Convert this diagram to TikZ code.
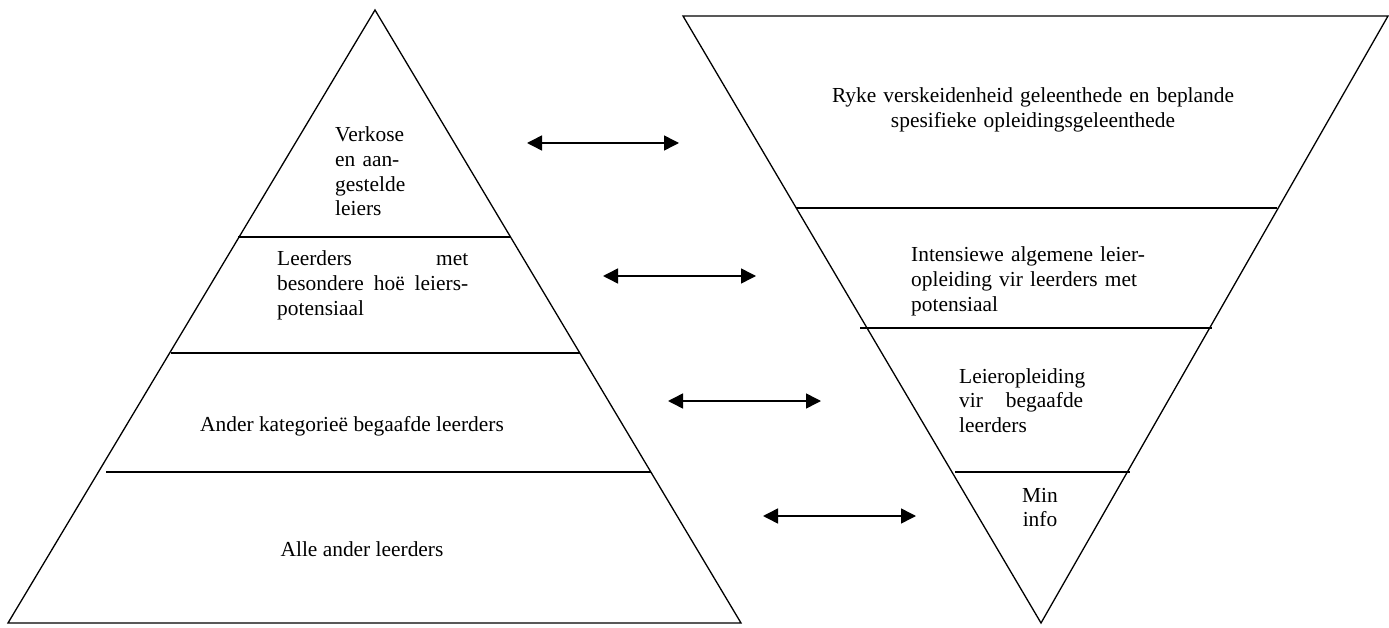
\documentclass[tikz,border=0pt]{standalone}
\usepackage{fontspec}
\setmainfont{Liberation Serif}
\usetikzlibrary{arrows.meta}

\begin{document}
\begin{tikzpicture}[
  x=1pt,y=-1pt,>={Triangle[length=15pt,width=15pt]},
  link/.style={<->,line width=1.5pt},
  edge/.style={line width=1.3pt,line join=miter},
  band/.style={line width=1.6pt},
  txt/.style={font=\fontsize{21.4}{24.6}\selectfont,inner sep=0pt},
  blk/.style={txt,align=left,anchor=base west}]
\useasboundingbox (0,0) rectangle (1389,628);
\coordinate (ltop) at (375,10);
\coordinate (lbl) at (8,623);
\coordinate (lbr) at (741,623);
\coordinate (rtl) at (683,16);
\coordinate (rtr) at (1388,16);
\coordinate (rbot) at (1041,623);
\draw[edge] (ltop)--(lbl)--(lbr)--cycle;
\draw[edge] (rtl)--(rtr)--(rbot)--cycle;
\draw[band] (238,237)--(510,237);
\draw[band] (171,353)--(580,353);
\draw[band] (106,472)--(651,472);
\draw[band] (796,208)--(1277,208);
\draw[band] (860,328)--(1212,328);
\draw[band] (955,472)--(1130,472);
\node[blk,text width=90pt] (verkose) at (335,142) {Verkose\\en aan-\\gestelde\\leiers};
\node[blk,text width=191pt] (potensiaal) at (277,266)
 {Leerders\hfill met\\besondere\hfill hoë\hfill leiers-\\potensiaal};
\node[txt,anchor=base] (ander) at (352,431) {Ander kategorieë begaafde leerders};
\node[txt,anchor=base] (alle) at (362,556) {Alle ander leerders};
\node[txt,align=center,text width=440pt,anchor=base] (ryke) at (1033,103)
 {Ryke verskeidenheid geleenthede en beplande\\spesifieke opleidingsgeleenthede};
\node[blk,text width=250pt] (intensief) at (911,262)
 {Intensiewe algemene leier-\\opleiding vir leerders met\\potensiaal};
\node[blk,text width=124pt] (leier) at (959,383) {Leieropleiding\\vir\hfill begaafde\\leerders};
\node[txt,align=center,text width=60pt,anchor=base] (min) at (1040,502) {Min\\info};
\coordinate (a1l) at (527,143);
\coordinate (a1r) at (679,143);
\coordinate (a2l) at (603,276);
\coordinate (a2r) at (756,276);
\coordinate (a3l) at (668,401);
\coordinate (a3r) at (821,401);
\coordinate (a4l) at (763,516);
\coordinate (a4r) at (916,516);
\draw[link] (a1l)--(a1r);
\draw[link] (a2l)--(a2r);
\draw[link] (a3l)--(a3r);
\draw[link] (a4l)--(a4r);
\end{tikzpicture}
\end{document}
